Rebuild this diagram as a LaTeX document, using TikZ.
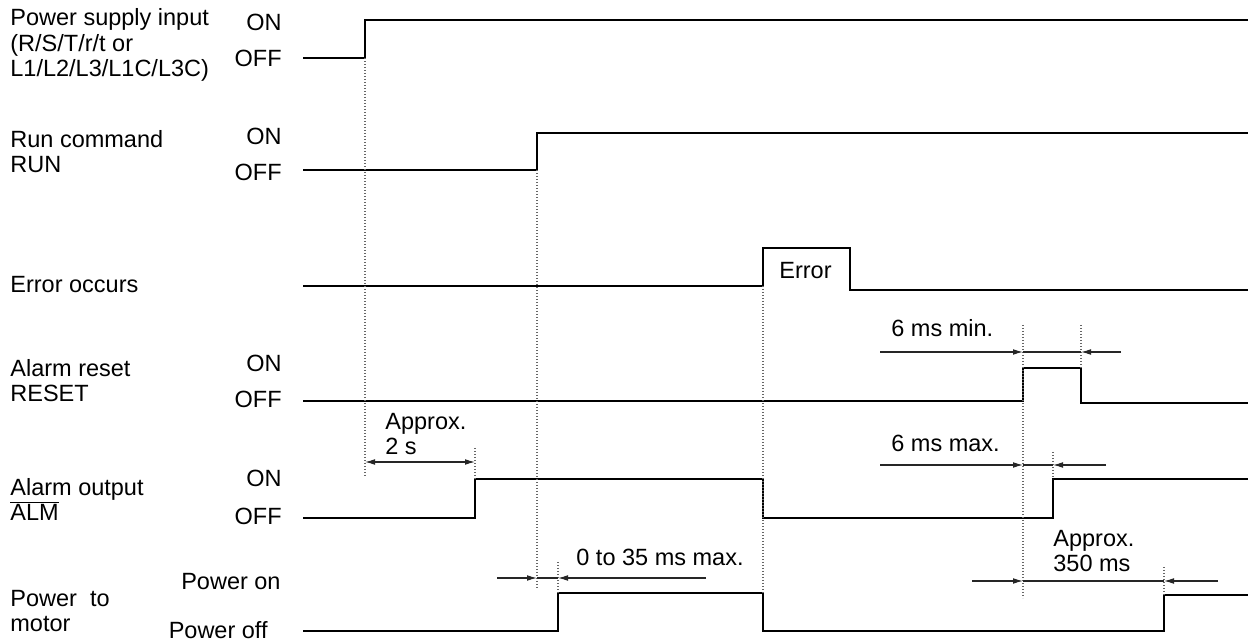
\documentclass[tikz,border=0pt]{standalone}
\usepackage{fontspec}
\setmainfont{Liberation Sans}
\usepackage{tikz}
\usetikzlibrary{arrows.meta}

\begin{document}
\begin{tikzpicture}[x=0.5pt,y=-0.5pt, every node/.style={font=\fontsize{11.75}{12.9}\selectfont,inner sep=0pt}, lbl/.style={anchor=base west,align=left}, lvl/.style={anchor=base east}, sig/.style={line width=1.45pt}, guide/.style={black!60,line width=0.55pt,dash pattern=on 0.6pt off 0.9pt}, tipL/.style={line width=0.55pt,black!85}, dim/.style={tipL,-{Latex[length=5pt,width=2.9pt]}}, dimboth/.style={tipL,{Latex[length=5pt,width=2.9pt]}-{Latex[length=5pt,width=2.9pt]}}]
\useasboundingbox (0,0) rectangle (1254,641);
% signal names and levels (base = last line)
\node[lbl] (psu) at (10,77) {Power supply input\\(R/S/T/r/t or\\L1/L2/L3/L1C/L3C)};
\node[lbl] (run) at (10,173) {Run command\\RUN};
\node[lbl] (err) at (10,293) {Error occurs};
\node[lbl] (rst) at (10,402) {Alarm reset\\RESET};
\node[lbl] (alm) at (10,521) {Alarm output\\$\overline{\mbox{ALM}}$};
\node[lbl] (mot) at (10,632) {Power\ \ to\\motor};
\node[lvl] (psuon) at (282,31) {ON}; \node[lvl] (psuoff) at (282,67) {OFF};
\node[lvl] (runon) at (282,145) {ON}; \node[lvl] (runoff) at (282,181) {OFF};
\node[lvl] (rston) at (282,372) {ON}; \node[lvl] (rstoff) at (282,408) {OFF};
\node[lvl] (almon) at (282,487) {ON}; \node[lvl] (almoff) at (282,525) {OFF};
\node[lvl] (moton) at (281,589) {Power on}; \node[lvl] (motoff) at (268,639) {Power off};
% waveforms
\draw[sig] (303,58) -- (365,58) -- (365,20) -- (1248,20);
\draw[sig] (303,170) -- (537,170) -- (537,133) -- (1248,133);
\draw[sig] (303,286) -- (763,286) -- (763,248) -- (850,248) -- (850,290) -- (1248,290);
\draw[sig] (303,401) -- (1023,401) -- (1023,368) -- (1081,368) -- (1081,403) -- (1248,403);
\draw[sig] (303,518) -- (475,518) -- (475,479) -- (763,479) -- (763,518) -- (1053,518) -- (1053,479) -- (1248,479);
\draw[sig] (303,631) -- (558,631) -- (558,593) -- (763,593) -- (763,631) -- (1164,631) -- (1164,595) -- (1248,595);
\node[lbl] (errtxt) at (779,279) {Error};
% timing guides
\foreach \gx/\ya/\yb in {365/58/476, 475/448/479, 537/170/588, 558/562/593, 763/286/593, 1023/325/598, 1081/325/368, 1053/452/479, 1164/567/595}
  \draw[guide] (\gx,\ya) -- (\gx,\yb);
% intervals
\draw[dimboth] (365,462) -- (475,462);
\node[lbl] (t2s) at (385,455) {Approx.\\2 s};
\draw[dim] (497,578) -- (537,578); \draw[tipL] (537,578) -- (558,578); \draw[dim] (706,578) -- (558,578);
\node[lbl] (t35) at (576,566) {0 to 35 ms max.};
\draw[dim] (880,352) -- (1023,352); \draw[tipL] (1023,352) -- (1081,352); \draw[dim] (1121,352) -- (1081,352);
\node[lbl] (t6min) at (891,337) {6 ms min.};
\draw[dim] (880,465) -- (1023,465); \draw[tipL] (1023,465) -- (1053,465); \draw[dim] (1106,465) -- (1053,465);
\node[lbl] (t6max) at (891,452) {6 ms max.};
\draw[dim] (972,581) -- (1023,581); \draw[tipL] (1023,581) -- (1164,581); \draw[dim] (1218,581) -- (1164,581);
\node[lbl] (t350) at (1053,572) {Approx.\\350 ms};
\end{tikzpicture}
\end{document}
